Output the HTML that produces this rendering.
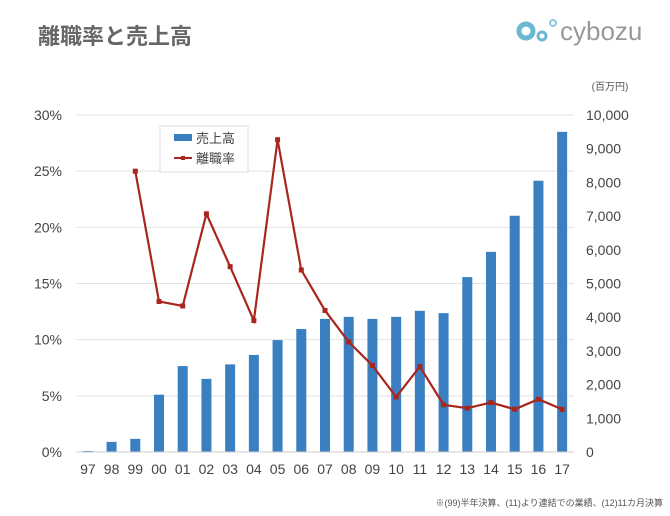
<!DOCTYPE html>
<html><head><meta charset="utf-8"><style>
body{margin:0;background:#fff;width:670px;height:511px;overflow:hidden}
text{font-family:"Liberation Sans","Noto Sans CJK JP",sans-serif}
</style></head><body>
<svg id="chart" width="670" height="511">
<text x="38" y="44" font-size="22" font-weight="bold" fill="#666">離職率と売上高</text>
<g>
<circle cx="526" cy="31" r="7" fill="none" stroke="#6cb8d3" stroke-width="5"/>
<circle cx="542" cy="36" r="4" fill="none" stroke="#6cb8d3" stroke-width="3"/>
<circle cx="553" cy="23" r="3" fill="none" stroke="#8cc8de" stroke-width="2"/>
<text x="560" y="40" font-size="26" fill="#999">cybozu</text>
</g>
<text x="610" y="90" font-size="10" fill="#555" text-anchor="middle">(百万円)</text>
<g id="grid"></g><g id="bars"></g><g id="line"></g><g id="axes"></g>
<g>
<rect x="160" y="126" width="88" height="46" fill="#fff" stroke="#ddd"/>
<rect x="174" y="134" width="18" height="7" fill="#3a7fc1"/>
<text x="196" y="143" font-size="13" fill="#444">売上高</text>
<line x1="174" y1="158" x2="192" y2="158" stroke="#a8261e" stroke-width="2"/>
<rect x="181" y="156" width="4" height="4" fill="#a8261e"/>
<text x="196" y="163" font-size="13" fill="#444">離職率</text>
</g>
<text x="663" y="506" font-size="9" fill="#555" text-anchor="end">※(99)半年決算、(11)より連結での業績、(12)11カ月決算</text>
</svg>
<script>
const categories=["97","98","99","00","01","02","03","04","05","06","07","08","09","10","11","12","13","14","15","16","17"];
const sales=[30,300,390,1700,2550,2170,2600,2880,3320,3650,3950,4010,3950,4010,4190,4120,5190,5940,7010,8050,9500];
const turnover=[null,null,25.0,13.4,13.0,21.2,16.5,11.7,27.8,16.2,12.6,9.8,7.7,4.9,7.6,4.2,3.9,4.4,3.8,4.7,3.8];
const leftTicks=["0%","5%","10%","15%","20%","25%","30%"];
const rightTicks=["0","1,000","2,000","3,000","4,000","5,000","6,000","7,000","8,000","9,000","10,000"];
(function(){
const NS="http://www.w3.org/2000/svg";
const plotTop=115,plotBot=452,x0=76,x1=574;
const step=(x1-x0)/categories.length;
const xs=i=>x0+step*(i+0.5);
const yL=v=>plotBot-(v/30)*(plotBot-plotTop);
const yR=v=>plotBot-(v/10000)*(plotBot-plotTop);
function mk(tag,attrs,parent,txt){const e=document.createElementNS(NS,tag);for(const k in attrs)e.setAttribute(k,attrs[k]);if(txt!=null)e.textContent=txt;document.getElementById(parent).appendChild(e);return e;}
leftTicks.forEach((t,i)=>{const y=yL(i*5);
 if(i>0){const g=mk("line",{x1:x0,x2:x1,y1:y,y2:y,stroke:"#e2e2e2"},"grid");
 
 }
 const e=mk("text",{x:62,y:y+5,"font-size":14,fill:"#444","text-anchor":"end"},"axes",t);
 
 });
rightTicks.forEach((t,i)=>{const y=yR(i*1000);
 const e=mk("text",{x:586,y:y+5,"font-size":14,fill:"#444"},"axes",t);
 
 });
const ax=mk("line",{x1:x0,x2:x1,y1:plotBot,y2:plotBot,stroke:"#ccc"},"axes");


categories.forEach((c,i)=>{
 const e=mk("text",{x:xs(i),y:474,"font-size":14,fill:"#444","text-anchor":"middle"},"axes",c);
 
 
 const b=mk("rect",{x:xs(i)-5,y:yR(sales[i]),width:10,height:plotBot-yR(sales[i]),fill:"#3a7fc1"},"bars");
 
 });
const pts=[];turnover.forEach((v,i)=>{if(v!=null)pts.push([xs(i),yL(v)]);});
const pl=mk("polyline",{points:pts.map(p=>p.join(",")).join(" "),fill:"none",stroke:"#a8261e","stroke-width":2.2},"line");


pts.forEach(p=>{const m=mk("rect",{x:p[0]-2.5,y:p[1]-2.5,width:5,height:5,fill:"#a8261e"},"line");
 
 });
})();
</script>
</body></html>
